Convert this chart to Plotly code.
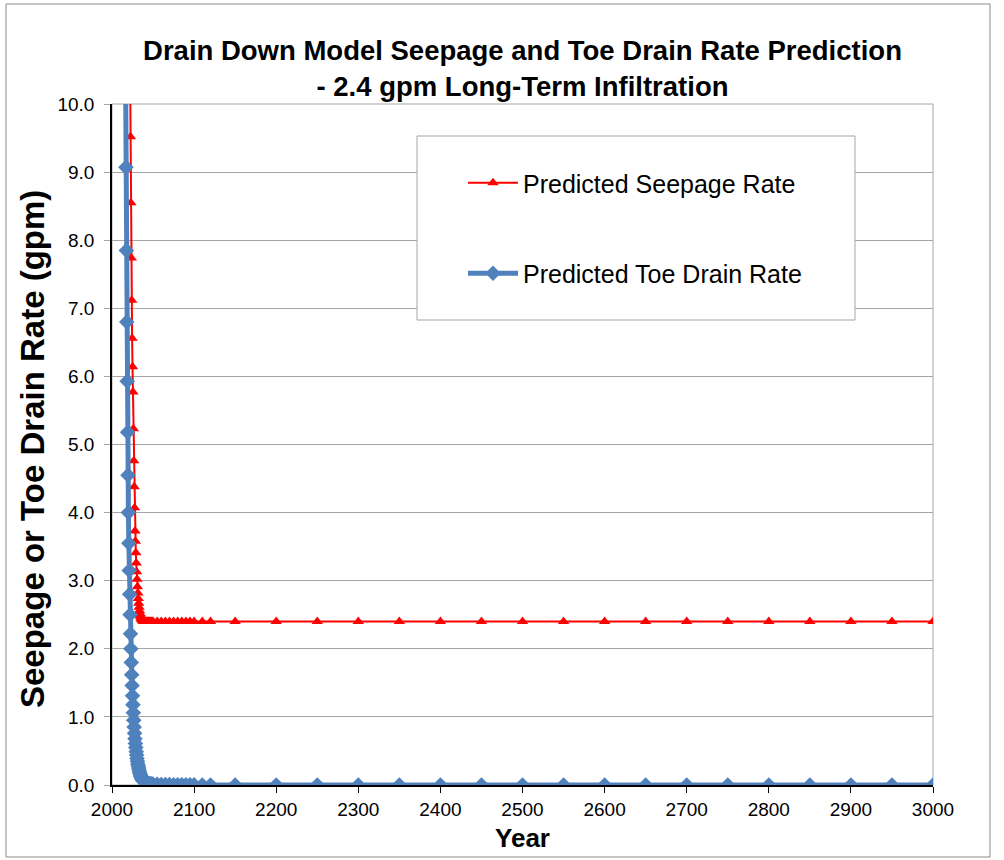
import plotly.graph_objects as go

# ---- data ----
toe_years = [2016.5, 2017, 2017.5, 2018, 2018.5, 2019, 2019.5, 2020, 2020.5, 2021, 2021.5, 2022,
             2022.5, 2023, 2023.5, 2024, 2024.5, 2025, 2025.5, 2026, 2026.5, 2027, 2027.5, 2028,
             2028.5, 2029, 2029.5, 2030, 2030.5, 2031, 2031.5, 2032, 2032.5, 2033, 2033.5, 2034,
             2034.5, 2035, 2035.5, 2036, 2036.5, 2037, 2037.5, 2038, 2038.5, 2039, 2039.5, 2040,
             2041, 2042, 2043, 2044, 2045, 2046, 2047, 2048, 2049, 2050,
             2055, 2060, 2065, 2070, 2075, 2080, 2085, 2090, 2095, 2100,
             2110, 2120, 2150,
             2200, 2250, 2300, 2350, 2400, 2450, 2500, 2550, 2600, 2650, 2700, 2750, 2800,
             2850, 2900, 2950, 3000]
toe_rate = [10.5, 9.07, 7.85, 6.80, 5.93, 5.18, 4.55, 4.00, 3.55, 3.15, 2.80, 2.50,
            2.22, 2.00, 1.80, 1.62, 1.46, 1.31, 1.18, 1.06, 0.95, 0.85, 0.76, 0.68,
            0.61, 0.55, 0.49, 0.44, 0.39, 0.35, 0.31, 0.28, 0.25, 0.22, 0.19, 0.17,
            0.15, 0.13, 0.12, 0.10, 0.09, 0.08, 0.07, 0.06, 0.055, 0.05, 0.045, 0.04,
            0.035, 0.03, 0.027, 0.024, 0.021, 0.019, 0.017, 0.015, 0.013, 0.012,
            0.010, 0.008, 0.006, 0.005, 0.004, 0.003, 0.003, 0.002, 0.002, 0.002,
            0.001, 0.001, 0.001,
            0, 0, 0, 0, 0, 0, 0, 0, 0, 0, 0, 0, 0,
            0, 0, 0, 0]

seep_years = [2022, 2022.5, 2023, 2023.5, 2024, 2024.5, 2025, 2025.5, 2026, 2026.5, 2027,
              2027.5, 2028, 2028.5, 2029, 2029.5, 2030, 2030.5, 2031, 2031.5, 2032, 2032.5,
              2033, 2033.5, 2034, 2034.5, 2035, 2035.5, 2036, 2036.5, 2037, 2037.5, 2038,
              2038.5, 2039, 2039.5, 2040, 2040.5, 2041, 2041.5, 2042,
              2043, 2044, 2045, 2046, 2047, 2048, 2049, 2050,
              2055, 2060, 2065, 2070, 2075, 2080, 2085, 2090, 2095, 2100,
              2110, 2120, 2150,
              2200, 2250, 2300, 2350, 2400, 2450, 2500, 2550, 2600, 2650, 2700, 2750, 2800,
              2850, 2900, 2950, 3000]
seep_rate = [10.6, 9.52, 8.55, 7.74, 7.12, 6.56, 6.14, 5.77, 5.23, 4.76, 4.38,
             4.07, 3.73, 3.58, 3.41, 3.26, 3.13, 3.02, 2.91, 2.82, 2.74, 2.67,
             2.61, 2.56, 2.52, 2.49, 2.47, 2.45, 2.44, 2.43, 2.42, 2.42, 2.41,
             2.41, 2.41, 2.40, 2.40, 2.40, 2.40, 2.40, 2.40,
             2.40, 2.40, 2.40, 2.40, 2.40, 2.40, 2.40, 2.40,
             2.40, 2.40, 2.40, 2.40, 2.40, 2.40, 2.40, 2.40, 2.40, 2.40,
             2.40, 2.40, 2.40,
             2.40, 2.40, 2.40, 2.40, 2.40, 2.40, 2.40, 2.40, 2.40, 2.40, 2.40, 2.40, 2.40,
             2.40, 2.40, 2.40, 2.40]

title_text = "<b>Drain Down Model Seepage and Toe Drain Rate Prediction<br>- 2.4 gpm Long-Term Infiltration</b>"
y_title_text = "<b>Seepage or Toe Drain Rate (gpm)</b>"
x_title_text = "<b>Year</b>"

FONT = "Liberation Sans, Arial, sans-serif"
GRID = "#a6a6a6"

fig = go.Figure()
fig.add_trace(go.Scatter(
    x=seep_years, y=seep_rate, mode="lines+markers", name="Predicted Seepage Rate",
    line=dict(color="#ff0000", width=2),
    marker=dict(symbol="triangle-up", size=10, color="#ff0000"),
    legendgroup="a"))
fig.add_trace(go.Scatter(
    x=toe_years, y=toe_rate, mode="lines+markers", name="Predicted Toe Drain Rate",
    line=dict(color="#4f81bd", width=5),
    marker=dict(symbol="diamond", size=12, color="#4f81bd"),
    legendgroup="b"))

L, R, T, B = 112, 71, 104, 75
PW, PH = 1004 - L - R, 860 - T - B


def px_x(p):
    return (p - L) / PW


def px_y(p):
    return (860 - B - p) / PH


fig.update_layout(
    width=1004, height=860,
    margin=dict(l=L, r=R, t=T, b=B),
    paper_bgcolor="white", plot_bgcolor="white",
    font=dict(family=FONT, color="black", size=19),
    title=dict(text=title_text, x=0.5, xanchor="center", xref="paper",
               y=1 - 60 / 860, yanchor="middle",
               font=dict(size=27.5, family=FONT, color="black")),
    showlegend=True,
    legend=dict(x=px_x(463), y=px_y(160), xanchor="left", yanchor="top",
                bgcolor="rgba(0,0,0,0)", borderwidth=0,
                font=dict(size=25, family=FONT),
                traceorder="grouped", tracegroupgap=55, itemwidth=50),
    shapes=[
        dict(type="rect", xref="paper", yref="paper", x0=0, x1=1, y0=0, y1=1,
             line=dict(color=GRID, width=1), fillcolor="rgba(0,0,0,0)", layer="below"),
        dict(type="rect", xref="paper", yref="paper",
             x0=px_x(417), x1=px_x(855), y0=px_y(136), y1=px_y(320),
             line=dict(color=GRID, width=1), fillcolor="white", layer="above"),
        dict(type="rect", xref="paper", yref="paper",
             x0=px_x(6), x1=px_x(990), y0=px_y(4), y1=px_y(857),
             line=dict(color="#8c8c8c", width=1), fillcolor="rgba(0,0,0,0)", layer="below"),
    ],
    annotations=[
        dict(text=y_title_text, xref="paper", yref="paper", x=px_x(33), y=px_y(449),
             xanchor="center", yanchor="middle", textangle=-90, showarrow=False,
             font=dict(size=33, family=FONT, color="black")),
    ],
)

fig.update_xaxes(
    range=[2000, 3000], dtick=100, tick0=2000,
    showgrid=False, zeroline=False,
    showline=True, linecolor="black", linewidth=1.5,
    ticks="outside", ticklen=6, tickcolor="black", tickwidth=1,
    tickfont=dict(size=19, family=FONT),
    title=dict(text=x_title_text, font=dict(size=26, family=FONT), standoff=10),
)
fig.update_yaxes(
    range=[0, 10], dtick=1, tick0=0, tickformat=".1f",
    showgrid=True, gridcolor=GRID, gridwidth=1, zeroline=False,
    showline=True, linecolor="black", linewidth=1.5,
    ticks="outside", ticklen=6, tickcolor=GRID, tickwidth=1,
    tickfont=dict(size=19, family=FONT), ticklabelstandoff=6,
)

fig.write_html("out.html", config={"displayModeBar": False},
               post_script="document.body.style.margin='0';")
